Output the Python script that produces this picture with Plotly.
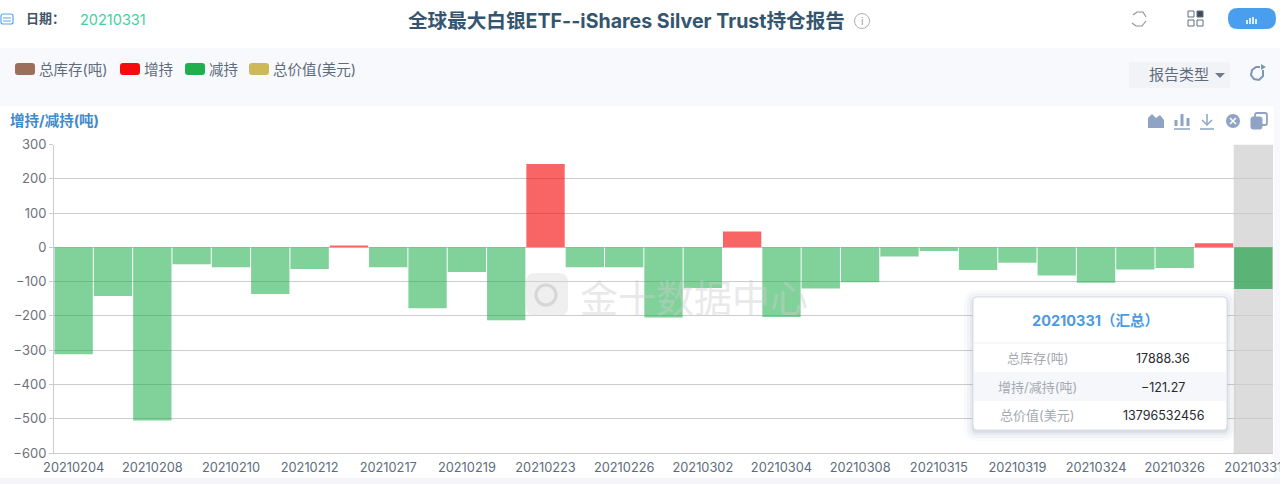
import plotly.graph_objects as go

dates = ["20210204","20210205","20210208","20210209","20210210","20210211","20210212","20210216",
         "20210217","20210218","20210219","20210222","20210223","20210225","20210226","20210301",
         "20210302","20210303","20210304","20210305","20210308","20210309","20210315","20210318",
         "20210319","20210322","20210324","20210325","20210326","20210330","20210331"]
change = [-312,-142,-505,-49,-58,-136,-63,5,-58,-178,-72,-213,243,-58,-58,-205,-119,46,-203,-120,
          -102,-27,-11,-66,-45,-82,-103,-65,-60,12,-121.27]
y_ticks = [300,200,100,0,-100,-200,-300,-400,-500,-600]
x_labels = dates[::2]
legend_names = ["总库存(吨)","增持","减持","总价值(美元)"]
legend_colors = ["#9C6F5A","#F50D0D","#1FAF4F","#CDB95A"]
tip_labels = ["总库存(吨)","增持/减持(吨)","总价值(美元)"]
tip_values = ["17888.36","−121.27","13796532456"]

W, H = 1280, 484
FONT = "Inter, 'Noto Sans CJK SC', sans-serif"
def X(x): return x / W
def Y(y): return 1 - y / H

shapes, ann = [], []
def rpath(x0, y0, x1, y1, r):
    def p(x, y): return f"{X(x):.5f},{Y(y):.5f}"
    return (f"M{p(x0+r,y0)} L{p(x1-r,y0)} Q{p(x1,y0)} {p(x1,y0+r)} L{p(x1,y1-r)} Q{p(x1,y1)} {p(x1-r,y1)} "
            f"L{p(x0+r,y1)} Q{p(x0,y1)} {p(x0,y1-r)} L{p(x0,y0+r)} Q{p(x0,y0)} {p(x0+r,y0)} Z")
def rect(x0, y0, x1, y1, fill, line=None, lw=0, layer="below", r=0):
    if r:
        shapes.append(dict(type="path", xref="paper", yref="paper", layer=layer, fillcolor=fill,
            line=dict(color=line or "rgba(0,0,0,0)", width=lw), path=rpath(x0, y0, x1, y1, r)))
    else:
        shapes.append(dict(type="rect", xref="paper", yref="paper", layer=layer, fillcolor=fill,
            line=dict(color=line or "rgba(0,0,0,0)", width=lw),
            x0=X(x0), x1=X(x1), y0=Y(y1), y1=Y(y0)))
def poly(points, fill=None, line=None, lw=1.2, close=False, layer="above"):
    d = "M" + " L".join(f"{X(a):.5f},{Y(b):.5f}" for a, b in points) + (" Z" if close else "")
    shapes.append(dict(type="path", xref="paper", yref="paper", layer=layer, path=d,
        fillcolor=fill or "rgba(0,0,0,0)", line=dict(color=line or "rgba(0,0,0,0)", width=lw)))
def circle(cx, cy, r, fill=None, line=None, lw=1.2):
    shapes.append(dict(type="circle", xref="paper", yref="paper", layer="above",
        x0=X(cx-r), x1=X(cx+r), y0=Y(cy+r), y1=Y(cy-r),
        fillcolor=fill or "rgba(0,0,0,0)", line=dict(color=line or "rgba(0,0,0,0)", width=lw)))
def text(x, y, s, size=13, color="#555", anchor="left", weight=None, fam=FONT):
    ann.append(dict(xref="paper", yref="paper", x=X(x), y=Y(y), text=f"<b>{s}</b>" if weight else s,
        showarrow=False, xanchor=anchor, yanchor="middle",
        font=dict(size=size, color=color, family=fam)))

# page panels
rect(0, 48, 1280, 106, "#F8F9FC")
rect(0, 478, 1280, 484, "#F3F5F9")
rect(1274, 106, 1280, 478, "#F8F9FC")

# header
rect(1, 14, 13, 24, "rgba(0,0,0,0)", "#5AA5E8", 1.2, "above", 2)
poly([(3, 18), (11, 18)], line="#5AA5E8", lw=1)
poly([(3, 21), (11, 21)], line="#5AA5E8", lw=1)
text(24, 18, "日期：", 13, "#3E5468", weight=True)
text(78, 19, "20210331", 14.5, "#45CFA0")
text(626, 21, "全球最大白银ETF--iShares Silver Trust持仓报告", 19.6, "#34556F", "center", True)
circle(862, 21, 7.5, line="#AAB0B5", lw=1)
text(862, 21, "i", 10, "#9AA0A5", "center")
# refresh icon
poly([(1133, 15), (1137, 12), (1143, 12), (1146, 17)], line="#8A9099", lw=1.1)
poly([(1132, 23), (1136, 26), (1142, 26), (1146, 21)], line="#8A9099", lw=1.1)
# grid icon
for gx, gy, f in [(1188, 11, None), (1197, 11, "#3C4A5C"), (1188, 20, None), (1197, 20, None)]:
    rect(gx, gy, gx+6, gy+6, f or "rgba(0,0,0,0)", "#5F6D7E", 1, "above")
rect(1228, 8, 1276, 29, "#4A9EEE", None, 0, "above", 10)
for bx, bt in [(1247, 20), (1250, 18), (1253, 17), (1256, 19)]:
    poly([(bx, 24), (bx, bt)], line="#FFFFFF", lw=1.6)

# legend
sw = [15, 120, 185, 249]
for sx, name, col in zip(sw, legend_names, legend_colors):
    rect(sx, 63, sx+20, 75, col, None, 0, "above", 3)
    text(sx+22, 69, name, 14.5, "#5D6B7C")

# report type dropdown
rect(1129, 62, 1230, 88, "#F2F3F6")
text(1179, 74, "报告类型", 15, "#5E6C7E", "center")
poly([(1215, 73), (1225, 73), (1220, 78)], fill="#6D7A8C", close=True)
poly([(1263, 70), (1263, 76), (1259, 80), (1254, 79), (1251, 75), (1252, 70), (1256, 67), (1260, 67)], line="#8195B5", lw=2)
poly([(1261, 64), (1261, 70), (1266, 67)], fill="#8195B5", close=True)

# panel title + toolbar
text(8, 120, "增持/减持(吨)", 14.5, "#4189C8", weight=True)
ic = "#8FA3C4"
poly([(1148,128),(1148,118),(1152,114),(1156,118),(1160,115),(1164,120),(1164,128)], fill=ic, close=True)
for bx, bt in [(1176, 120), (1182, 114), (1188, 118)]:
    poly([(bx, 126), (bx, bt)], line=ic, lw=3)
poly([(1174, 129), (1190, 129)], line=ic, lw=1.5)
poly([(1207, 114), (1207, 125)], line=ic, lw=1.5)
poly([(1202, 120), (1207, 125), (1212, 120)], line=ic, lw=1.5)
poly([(1200, 129), (1214, 129)], line=ic, lw=1.5)
circle(1233, 121, 7, fill=ic)
poly([(1230, 118), (1236, 124)], line="#FFFFFF", lw=1.5)
poly([(1236, 118), (1230, 124)], line="#FFFFFF", lw=1.5)
rect(1255, 113, 1267, 125, "rgba(0,0,0,0)", ic, 1.8, "above", 2)
rect(1251, 117, 1262, 129, ic, ic, 1, "above", 2)

# watermark
rect(526, 273, 568, 316, "rgba(215,215,215,0.4)", None, 0, "above", 9)
circle(546, 295, 10, line="rgba(190,190,190,0.5)", lw=3)
text(578, 295, "金十数据中心", 38, "rgba(205,205,205,0.45)", fam="'Noto Sans CJK SC', sans-serif")

# tooltip
for i, a in [(9, 0.03), (6, 0.04), (3, 0.05), (1, 0.07)]:
    rect(973-i, 297-i+2, 1227+i, 430+i+2, f"rgba(60,80,120,{a})", None, 0, "above", 5+i)
rect(973, 297, 1227, 430, "#FFFFFF", "#D8DCE4", 1, "above", 4)
rect(974, 372, 1226, 401, "#F5F7FB", None, 0, "above")
poly([(973, 343), (1227, 343)], line="#ECEEF2", lw=1)
text(1095, 320, "20210331（汇总）", 14.5, "#4A9BE0", "center", True)
for ty, lab, val in zip([358, 387, 415], tip_labels, tip_values):
    text(1037, ty, lab, 13, "#A5A9B0", "center")
    text(1163, ty, val, 12.5, "#26292E", "center")

# last-category highlight drawn from the axis scale
shapes.append(dict(type="rect", xref="x", yref="y", layer="below", x0=29.5, x1=30.5, y0=-600, y1=300,
    fillcolor="#DCDCDC", line=dict(width=0)))

colors = ["rgba(245,10,10,0.63)" if v > 0 else "rgba(30,175,75,0.56)" for v in change]
colors[-1] = "rgba(30,160,70,0.68)"

fig = go.Figure(go.Bar(x=dates, y=change, marker=dict(color=colors, line=dict(width=0)),
                       width=0.975, hoverinfo="skip", showlegend=False))
fig.update_layout(
    width=W, height=H, margin=dict(l=0, r=0, t=0, b=0, pad=0, autoexpand=False),
    paper_bgcolor="#FFFFFF", plot_bgcolor="rgba(0,0,0,0)", showlegend=False,
    shapes=shapes, annotations=ann, bargap=0.02,
    font=dict(family=FONT),
    xaxis=dict(domain=[54/W, 1273/W], type="category", categoryorder="array", categoryarray=dates,
               range=[-0.5, 30.5], tickmode="array", tickvals=x_labels, ticktext=x_labels,
               showgrid=False, zeroline=False, showline=True, linecolor="#CCCCCC", linewidth=1,
               ticks="", tickfont=dict(size=12.8, color="#5C6B7C"), ticklabelstandoff=3,
               anchor="y", position=0, automargin=False),
    yaxis=dict(domain=[1-453/H, 1-144.5/H], range=[-600, 300], tickmode="array", tickvals=y_ticks,
               showgrid=True, gridcolor="#CCCCCC", gridwidth=1, zeroline=False,
               showline=True, linecolor="#CCCCCC", linewidth=1, ticks="outside", ticklen=4,
               tickcolor="#CCCCCC", tickfont=dict(size=13, color="#6E7079"), automargin=False),
)
fig.write_html("out.html", config=dict(displayModeBar=False),
               post_script="document.body.style.margin='0';document.body.style.overflow='hidden';")
